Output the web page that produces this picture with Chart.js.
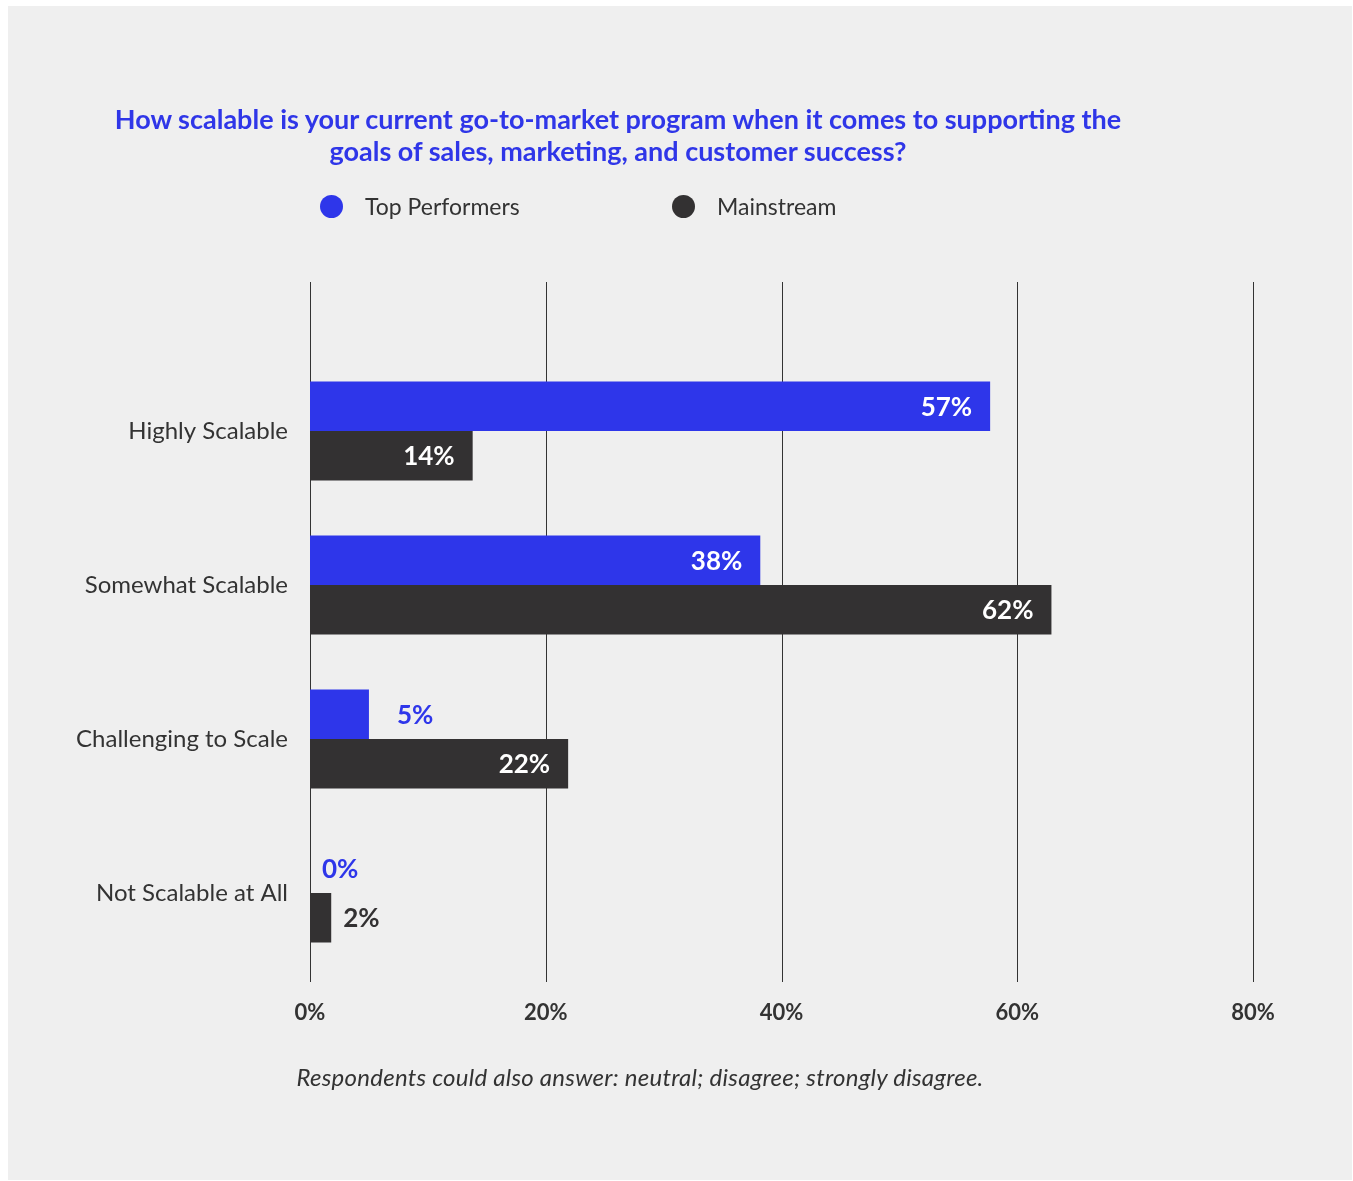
<!DOCTYPE html>
<html>
<head>
<meta charset="utf-8">
<script src="https://cdn.jsdelivr.net/npm/chart.js@4"></script>
<style>
  html, body { margin: 0; padding: 0; background: #fff; }
  body { width: 1353px; height: 1181px; position: relative; overflow: hidden; font-family: Lato, "Noto Sans", sans-serif; }
  #panel { position: absolute; left: 8px; top: 6px; width: 1344px; height: 1174px; background: #efefef; }
  #chart { position: absolute; left: 0; top: 0; }
  #title { position: absolute; left: 0; top: 103px; width: 1236px; text-align: center; color: #2f36e8; font-weight: 700; font-size: 27px; line-height: 32px; }
  #legend { position: absolute; left: 320px; top: 192px; display: flex; }
  .item { width: 352px; display: flex; align-items: center; font-size: 23px; color: #333; height: 28px; }
  .dot { width: 23px; height: 23px; border-radius: 50%; margin-right: 22px; }
  #note { position: absolute; left: 0; top: 1062px; width: 1280px; text-align: center; font-style: italic; font-size: 24px; letter-spacing: 0.25px; color: #333; }
</style>
</head>
<body>
<div id="panel"></div>
<canvas id="chart" width="1353" height="1181"></canvas>
<div id="title">How scalable is your current go-to-market program when it comes to supporting the<br>goals of sales, marketing, and customer success?</div>
<div id="legend"></div>
<div id="note">Respondents could also answer: neutral; disagree; strongly disagree.</div>
<script>
const categories = ["Highly Scalable", "Somewhat Scalable", "Challenging to Scale", "Not Scalable at All"];
// bar lengths as measured on the picture, and the printed labels
const topPerformers = [57.7, 38.2, 5, 0];
const mainstream = [13.8, 62.9, 21.9, 1.8];
const topLabels = ["57%", "38%", "5%", "0%"];
const mainLabels = ["14%", "62%", "22%", "2%"];
const xTicks = [0, 20, 40, 60, 80];

const BLUE = "#2e36ea";
const DARK = "#333132";
const FONT = "Lato, 'Noto Sans', sans-serif";

// vertical grid lines that run above and below the bars
const gridPlugin = {
    id: "tallGrid",
    beforeDatasetsDraw(chart) {
        const ctx = chart.ctx;
        const x = chart.scales.x;
        ctx.save();
        ctx.strokeStyle = "#333";
        ctx.lineWidth = 1;
        xTicks.forEach(function (t) {
            const px = Math.round(x.getPixelForValue(t)) + 0.5;
            ctx.beginPath();
            ctx.moveTo(px, 282);
            ctx.lineTo(px, 982);
            ctx.stroke();
        });
        ctx.restore();
    }
};

// value labels at the bar ends
const labelPlugin = {
    id: "barLabels",
    afterDatasetsDraw(chart) {
        const ctx = chart.ctx;
        ctx.save();
        ctx.font = "bold 26px " + FONT;
        ctx.textBaseline = "middle";
        chart.data.datasets.forEach(function (ds, i) {
            chart.getDatasetMeta(i).data.forEach(function (bar, j) {
                const v = ds.data[j];
                const txt = ds.valueLabels[j];
                if (v >= 10) {
                    ctx.fillStyle = "#fff";
                    ctx.textAlign = "right";
                    ctx.fillText(txt, bar.x - 18, bar.y + 1);
                } else {
                    ctx.fillStyle = i === 0 ? BLUE : DARK;
                    ctx.textAlign = "left";
                    ctx.fillText(txt, bar.x + (v > 3 ? 28 : 12), bar.y + 1);
                }
            });
        });
        ctx.restore();
    }
};

const chart = new Chart(document.getElementById("chart").getContext("2d"), {
    type: "bar",
    data: {
        labels: categories,
        datasets: [
            { label: "Top Performers", data: topPerformers, valueLabels: topLabels, backgroundColor: BLUE },
            { label: "Mainstream", data: mainstream, valueLabels: mainLabels, backgroundColor: DARK }
        ]
    },
    options: {
        indexAxis: "y",
        responsive: false,
        animation: false,
        categoryPercentage: 0.643,
        barPercentage: 1.0,
        layout: { padding: { top: 354, right: 100, bottom: 151, left: 10 } },
        plugins: {
            legend: { display: false },
            tooltip: { enabled: false }
        },
        scales: {
            x: {
                min: 0,
                max: 80,
                grid: { display: false, drawTicks: false },
                border: { display: false },
                afterFit: function (s) { s.height = 60; },
                ticks: {
                    stepSize: 20,
                    padding: 30,
                    color: "#333",
                    font: { family: FONT, size: 22, weight: "bold" },
                    callback: function (v) { return v + "%"; }
                }
            },
            y: {
                grid: { display: false, drawTicks: false },
                border: { display: false },
                afterFit: function (s) { s.width = 300; },
                ticks: {
                    padding: 22,
                    color: "#333",
                    font: { family: FONT, size: 24 }
                }
            }
        }
    },
    plugins: [gridPlugin, labelPlugin]
});

// legend built from the datasets
const legendEl = document.getElementById("legend");
chart.data.datasets.forEach(function (ds) {
    const item = document.createElement("div");
    item.className = "item";
    const dot = document.createElement("span");
    dot.className = "dot";
    dot.style.background = ds.backgroundColor;
    item.appendChild(dot);
    item.appendChild(document.createTextNode(ds.label));
    legendEl.appendChild(item);
});
</script>
</body>
</html>
